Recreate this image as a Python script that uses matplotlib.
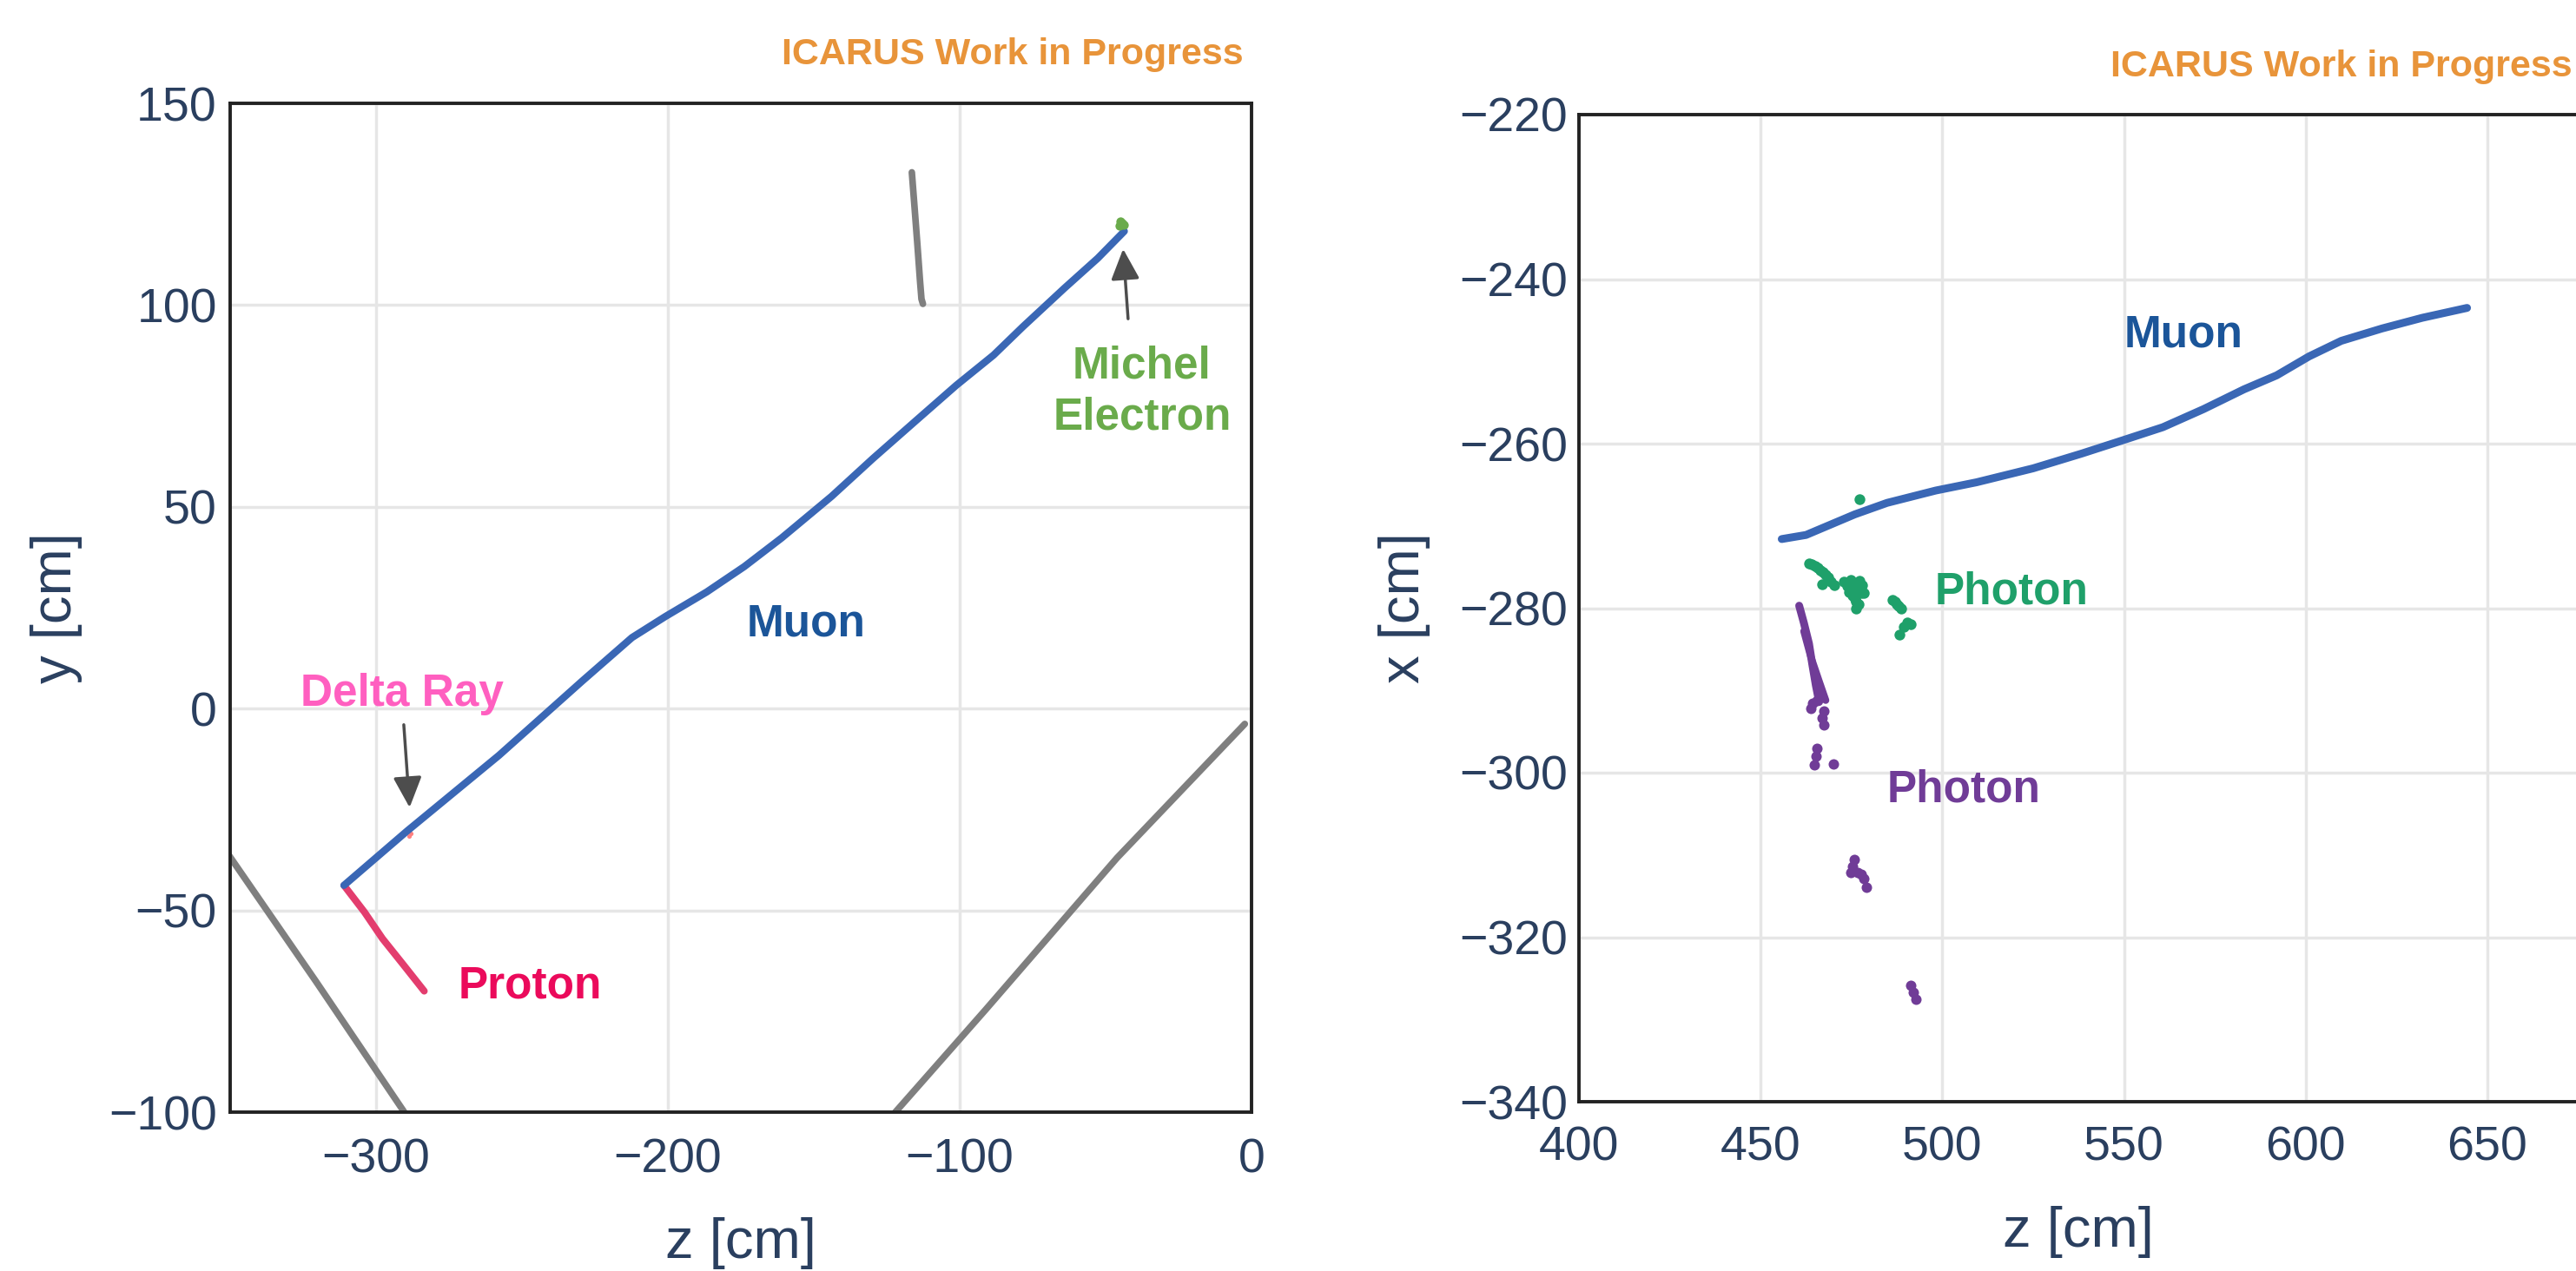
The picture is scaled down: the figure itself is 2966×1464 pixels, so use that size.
import matplotlib
matplotlib.use("Agg")
import matplotlib.pyplot as plt

plt.rcParams['font.family'] = ['Liberation Sans', 'DejaVu Sans']

# ---- left panel: y vs z ----
muon_z = [-311, -289.3, -257.9, -229.4, -212.3, -200.9, -186.7, -173.8, -161.0,
          -143.9, -129.7, -115.4, -101.2, -88.4, -78.4, -64.1, -52.7, -43.6]
muon_y = [-43.8, -30.3, -11.6, 6.8, 17.6, 22.8, 28.9, 35.2, 42.3,
          52.6, 62.0, 71.1, 80.1, 87.6, 94.6, 104.2, 111.6, 118.3]

proton_z = [-311, -304, -297.8, -290.5, -283.5]
proton_y = [-43.8, -50.4, -57.0, -63.6, -70.0]

michel_z = [-45.2, -44.4, -43.8, -44.9]
michel_y = [119.6, 120.4, 119.9, 120.8]

delta_z = [-288.8, -288.2]
delta_y = [-31.6, -31.0]

cosmic1_z = [-356, -320.6, -288]
cosmic1_y = [-30.5, -67.6, -102.5]
cosmic2_z = [-124, -91.1, -46.1, -2.3]
cosmic2_y = [-101.6, -74.6, -37.0, -3.8]
cosmic3_z = [-116.4, -115.5, -114.5, -113.6, -113.1, -112.6]
cosmic3_y = [132.9, 124.5, 115.0, 106.0, 101.5, 100.3]

# ---- right panel: x vs z ----
muon2_z = [455.8, 462.5, 475.9, 484.8, 498.2, 509.4, 525.0, 538.4, 549.6,
           560.7, 571.9, 583.0, 592.0, 600.9, 609.8, 621.0, 632.1, 644.4]
muon2_x = [-271.6, -271.1, -268.6, -267.2, -265.7, -264.7, -263.0, -261.2, -259.6,
           -258.0, -255.8, -253.4, -251.7, -249.4, -247.5, -246.0, -244.7, -243.5]

# green photon hits
photon1_z = [477.1, 463.3, 464.1, 464.9, 465.7, 466.5, 467.2, 467.9, 468.6, 469.3, 467.0, 470.2,
             473.0, 474.8, 477.1, 473.9, 475.7, 477.6, 475.3, 476.2, 476.2, 478.5,
             476.8, 474.4, 477.0, 476.0, 478.0, 475.0,
             486.3, 486.9, 487.5, 488.0, 488.6, 491.4, 489.5, 488.1, 490.4]
photon1_x = [-266.8, -274.6, -274.7, -274.9, -275.1, -275.4, -275.6, -275.9, -276.3, -276.8, -277.1, -277.2,
             -276.8, -276.6, -276.7, -277.3, -277.7, -278.2, -278.5, -279.2, -280.0, -278.2,
             -277.6, -278.0, -279.5, -278.9, -277.2, -277.0,
             -279.0, -279.2, -279.5, -279.7, -280.0, -282.0, -282.3, -283.2, -281.7]

# purple photon: main streak (two strands) and separate hits
streak_a_z = [460.6, 461.9, 463.3, 464.2, 465.2, 466.1]
streak_a_x = [-279.7, -281.8, -284.3, -286.8, -289.4, -291.4]
streak_b_z = [461.9, 463.8, 466.1, 467.9]
streak_b_x = [-282.8, -285.9, -288.9, -291.2]
photon2_z = [463.8, 464.3, 465.6, 467.0, 467.5, 467.3,
             465.6, 465.2, 464.7, 470.0,
             475.7, 475.2, 474.8, 476.7, 477.6, 478.5, 479.0,
             491.4, 492.0, 492.8]
photon2_x = [-292.2, -291.6, -291.2, -293.4, -294.2, -292.5,
             -297.0, -298.0, -299.0, -298.9,
             -310.6, -311.4, -312.1, -312.1, -312.4, -312.9, -313.9,
             -325.9, -326.7, -327.5]

TXT = '#2a3f5f'
GRID = '#e6e6e6'
ORANGE = '#e8943a'
MUON = '#3a67b5'
MUON_TXT = '#1b5599'
GREEN = '#1fa06a'
PURPLE = '#703c97'

W, H = 2966, 1464
fig = plt.figure(figsize=(W / 100, H / 100), dpi=100)


def box(l, r, t, b):
    return [l / W, 1 - b / H, (r - l) / W, (b - t) / H]


def style(ax, ypad, xpad):
    ax.set_facecolor('white')
    ax.grid(True, color=GRID, lw=2.5, zorder=0)
    ax.set_axisbelow(True)
    for s in ax.spines.values():
        s.set_linewidth(2.8)
        s.set_color('#222222')
    ax.tick_params(length=0, labelsize=40, labelcolor=TXT)
    ax.tick_params(axis='y', pad=ypad)
    ax.tick_params(axis='x', pad=xpad)


# left
ax1 = fig.add_axes(box(265, 1441, 119, 1281))
style(ax1, 11, 21)
ax1.set_xlim(-350, 0)
ax1.set_ylim(-100, 150)
ax1.set_xticks([-300, -200, -100, 0])
ax1.set_yticks([-100, -50, 0, 50, 100, 150])
ax1.axhline(0, color='white', lw=3, zorder=0.5)

gray = '#7f7f7f'
for cz, cy in [(cosmic1_z, cosmic1_y), (cosmic2_z, cosmic2_y), (cosmic3_z, cosmic3_y)]:
    ax1.plot(cz, cy, color=gray, lw=5.5, solid_capstyle='round',
             solid_joinstyle='round', zorder=2)
ax1.plot(proton_z, proton_y, color='#e33d6e', lw=5.8, solid_capstyle='round',
         solid_joinstyle='round', zorder=3)
ax1.plot(muon_z, muon_y, color=MUON, lw=6, solid_capstyle='round',
         solid_joinstyle='round', zorder=4)
ax1.scatter(delta_z, delta_y, s=14, color='#ff8080', zorder=3.5, lw=0)
ax1.scatter(michel_z, michel_y, s=55, color='#6aab4b', zorder=5, lw=0)

arrow = dict(arrowstyle='-|>,head_length=0.6,head_width=0.28', color='#4d4d4d',
             lw=2.5, shrinkA=0, shrinkB=0, mutation_scale=36)
ax1.annotate('', xy=(-44.0, 113.9), xytext=(-42.3, 96.6), arrowprops=arrow, zorder=6)
ax1.annotate('', xy=(-288.5, -24.5), xytext=(-290.5, -4.0), arrowprops=arrow, zorder=6)

bold = dict(fontsize=37, fontweight='bold', ha='center', va='center')
ax1.text(-37.5, 78.5, 'Michel\nElectron', color='#6aab4b', linespacing=1.28, **bold)
ax1.text(-291, 3.5, 'Delta Ray', color='#ff5fc0', **bold)
ax1.text(-247.3, -68.8, 'Proton', color='#eb0a5b', **bold)
ax1.text(-152.5, 20.9, 'Muon', color=MUON_TXT, **bold)

ax1.set_xlabel('z [cm]', fontsize=47, color=TXT)
ax1.set_ylabel('y [cm]', fontsize=47, color=TXT)
ax1.xaxis.set_label_coords(0.5, -0.130)
ax1.xaxis.label.set_va('center')
ax1.yaxis.set_label_coords(-0.170, 0.5)
ax1.yaxis.label.set_va('center')

fig.text(1432 / W, 1 - 63 / H, 'ICARUS Work in Progress', color=ORANGE,
         fontsize=31, fontweight='bold', ha='right', va='center')

# right
ax2 = fig.add_axes(box(1818, 1818 + 275 * 4.184, 132, 1269))
style(ax2, 9.5, 20)
ax2.set_xlim(400, 675)
ax2.set_ylim(-340, -220)
ax2.set_xticks([400, 450, 500, 550, 600, 650])
ax2.set_yticks([-340, -320, -300, -280, -260, -240, -220])
ax2.spines['right'].set_visible(False)

ax2.plot(muon2_z, muon2_x, color=MUON, lw=6.5, solid_capstyle='round',
         solid_joinstyle='round', zorder=4)
ax2.scatter(photon1_z, photon1_x, s=80, color=GREEN, lw=0, zorder=3)
ax2.plot(streak_a_z, streak_a_x, color=PURPLE, lw=6.5, solid_capstyle='round', zorder=3)
ax2.plot(streak_b_z, streak_b_x, color=PURPLE, lw=6, solid_capstyle='round', zorder=3)
ax2.scatter(photon2_z, photon2_x, s=75, color=PURPLE, lw=0, zorder=3)

ax2.text(566.3, -246.8, 'Muon', color=MUON_TXT, **bold)
ax2.text(519.0, -278.0, 'Photon', color=GREEN, **bold)
ax2.text(506.0, -302.1, 'Photon', color=PURPLE, **bold)

ax2.set_xlabel('z [cm]', fontsize=47, color=TXT)
ax2.set_ylabel('x [cm]', fontsize=47, color=TXT)
ax2.xaxis.set_label_coords(0.5, -0.132)
ax2.xaxis.label.set_va('center')
ax2.yaxis.set_label_coords(-0.175, 0.5)
ax2.yaxis.label.set_va('center')

fig.text(2962 / W, 1 - 77 / H, 'ICARUS Work in Progress', color=ORANGE,
         fontsize=31, fontweight='bold', ha='right', va='center')

fig.savefig('out.png', dpi=100, facecolor='white')
